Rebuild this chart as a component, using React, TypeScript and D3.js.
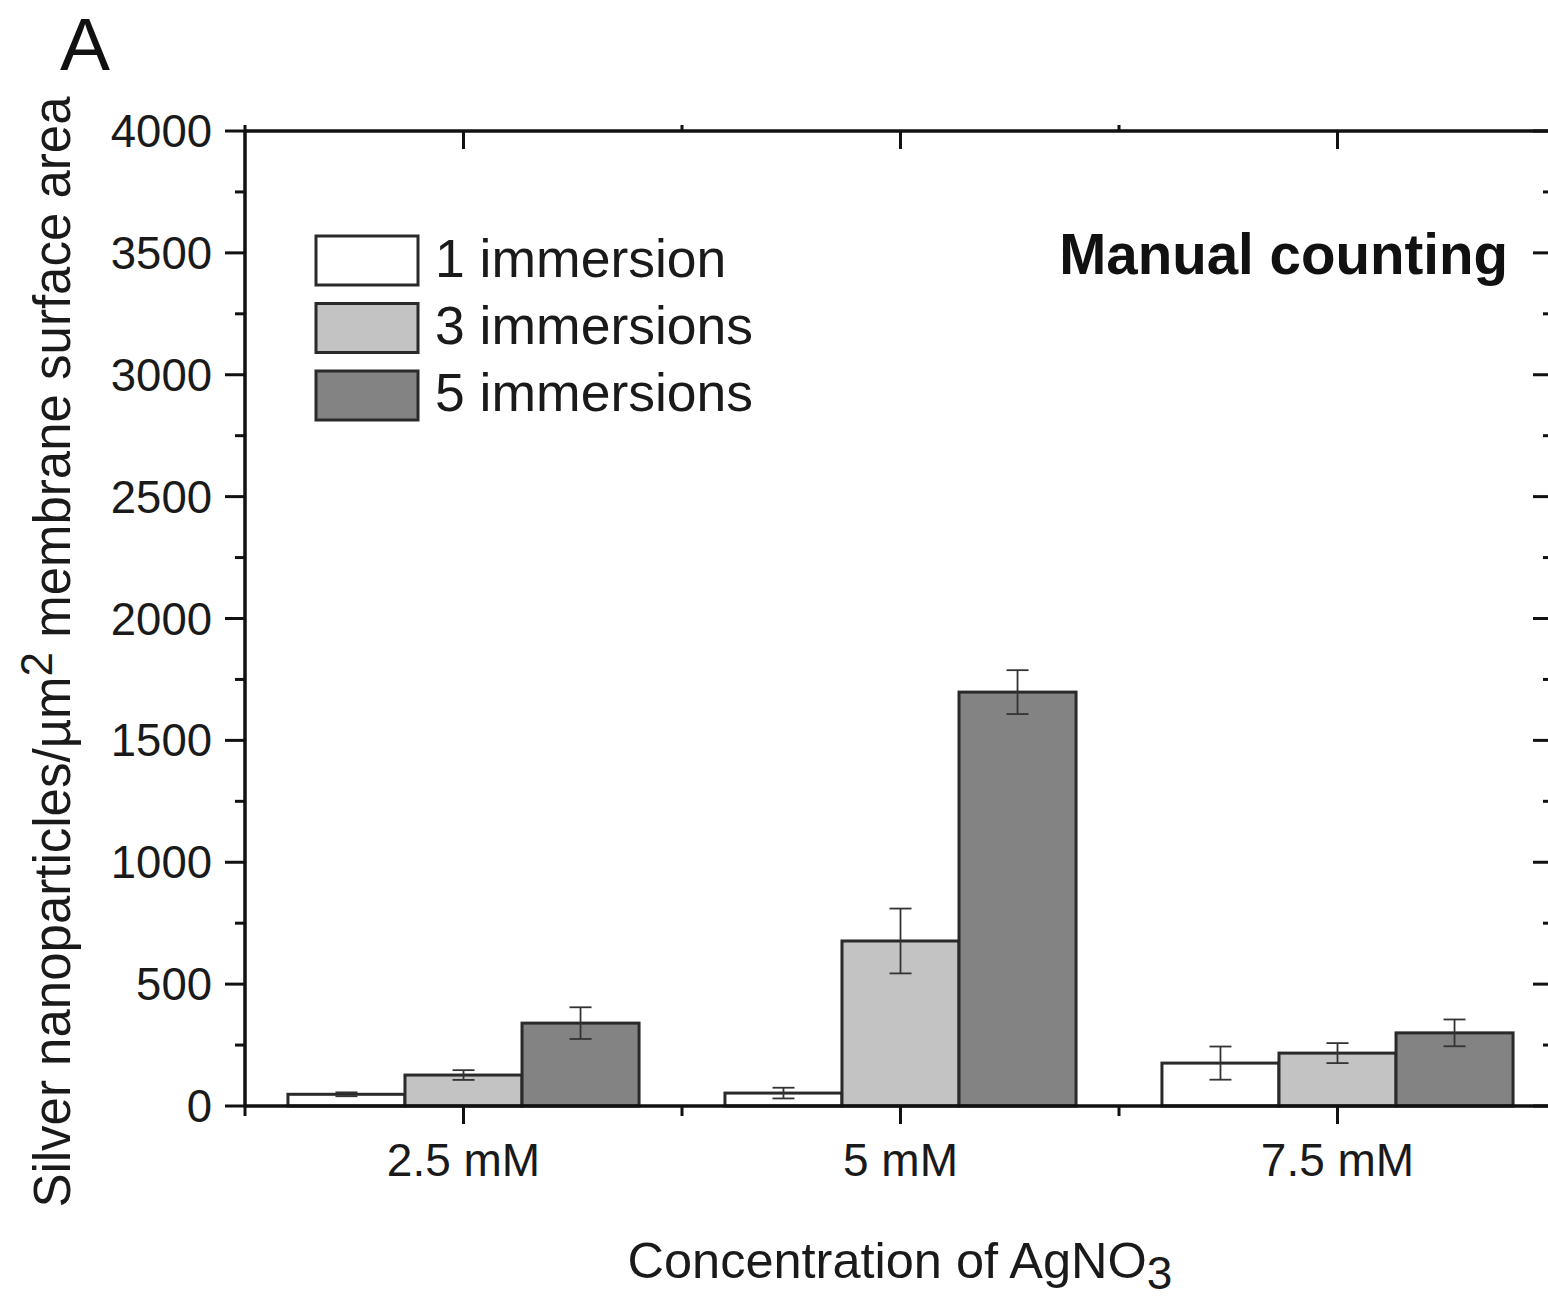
import React from "react";
import * as d3 from "d3";

const categories = ["2.5 mM", "5 mM", "7.5 mM"];
const seriesNames = ["1 immersion", "3 immersions", "5 immersions"];
const values1 = [48, 53, 176];
const errors1 = [8, 22, 68];
const values3 = [127, 677, 217];
const errors3 = [20, 133, 41];
const values5 = [340, 1698, 300];
const errors5 = [65, 90, 55];
const yTicks = [0, 500, 1000, 1500, 2000, 2500, 3000, 3500, 4000];
const seriesFills = ["#ffffff", "#c3c3c3", "#838383"];

const W = 1548;
const H = 1299;
const left = 245;
const right = 1556;
const top = 131;
const bottom = 1106;
const FONT = "'Liberation Sans', Arial, Helvetica, sans-serif";

export default function App() {
  const x = d3.scaleBand<string>().domain(categories).range([left, right]).padding(0);
  const xs = d3
    .scaleBand<string>()
    .domain(seriesNames)
    .range([0, x.bandwidth()])
    .paddingInner(0)
    .paddingOuter(0.367);
  const y = d3.scaleLinear().domain([0, 4000]).range([bottom, top]);

  const allValues = [values1, values3, values5];
  const allErrors = [errors1, errors3, errors5];

  const minorY = d3.range(250, 4000, 500);
  const boundaries = categories.slice(1).map((c) => x(c) as number);
  const axisColor = "#111";

  return (
    <svg
      width={W}
      height={H}
      style={{ position: "absolute", left: 0, top: 0, background: "#fff" }}
      fontFamily={FONT}
    >
      <rect x={0} y={0} width={W} height={H} fill="#fff" />
      {/* Panel label */}
      <text x={85} y={70} fontSize={75} textAnchor="middle" fill="#111">
        A
      </text>

      {/* Bars */}
      {seriesNames.map((s, si) =>
        categories.map((c, ci) => {
          const bx = (x(c) as number) + (xs(s) as number);
          const v = allValues[si][ci];
          return (
            <rect
              key={s + c}
              x={bx}
              y={y(v)}
              width={xs.bandwidth()}
              height={y(0) - y(v)}
              fill={seriesFills[si]}
              stroke="#2a2a2a"
              strokeWidth={3}
            />
          );
        })
      )}

      {/* Error bars */}
      {seriesNames.map((s, si) =>
        categories.map((c, ci) => {
          const cx = (x(c) as number) + (xs(s) as number) + xs.bandwidth() / 2;
          const v = allValues[si][ci];
          const e = allErrors[si][ci];
          const y1 = y(v + e);
          const y2 = y(v - e);
          return (
            <g key={"e" + s + c} stroke="#333" strokeWidth={1.8}>
              <line x1={cx} x2={cx} y1={y1} y2={y2} />
              <line x1={cx - 11} x2={cx + 11} y1={y1} y2={y1} />
              <line x1={cx - 11} x2={cx + 11} y1={y2} y2={y2} />
            </g>
          );
        })
      )}

      {/* Axes frame */}
      <g stroke={axisColor} strokeWidth={3.5} fill="none">
        <line x1={left} x2={left} y1={top} y2={bottom} />
        <line x1={right - 3} x2={right - 3} y1={top} y2={bottom} />
        <line x1={left} x2={W + 10} y1={top} y2={top} />
        <line x1={left} x2={W + 10} y1={bottom} y2={bottom} />
      </g>

      {/* Left ticks (outward) and right ticks (inward) */}
      <g stroke={axisColor} strokeWidth={3}>
        {yTicks.map((t) => (
          <g key={"yt" + t}>
            <line x1={left - 20} x2={left} y1={y(t)} y2={y(t)} />
            <line x1={right - 23} x2={right - 3} y1={y(t)} y2={y(t)} />
          </g>
        ))}
        {minorY.map((t) => (
          <g key={"ym" + t}>
            <line x1={left - 10} x2={left} y1={y(t)} y2={y(t)} />
            <line x1={right - 13} x2={right - 3} y1={y(t)} y2={y(t)} />
          </g>
        ))}
        {categories.map((c) => {
          const cx = (x(c) as number) + x.bandwidth() / 2;
          return (
            <g key={"xt" + c}>
              <line x1={cx} x2={cx} y1={bottom} y2={bottom + 18} />
              <line x1={cx} x2={cx} y1={top} y2={top + 18} />
            </g>
          );
        })}
        {[left, ...boundaries].map((b, i) => (
          <g key={"xb" + i}>
            <line x1={b} x2={b} y1={bottom} y2={bottom + 10} />
            <line x1={b} x2={b} y1={top} y2={top - 6} />
          </g>
        ))}
      </g>

      {/* Y tick labels */}
      {yTicks.map((t) => (
        <text
          key={"yl" + t}
          x={212}
          y={y(t) + 16}
          fontSize={45.5}
          textAnchor="end"
          fill="#1a1a1a"
        >
          {t}
        </text>
      ))}

      {/* X tick labels */}
      {categories.map((c) => (
        <text
          key={"xl" + c}
          x={(x(c) as number) + x.bandwidth() / 2}
          y={1176}
          fontSize={46}
          textAnchor="middle"
          fill="#1a1a1a"
        >
          {c}
        </text>
      ))}

      {/* X axis title */}
      <text x={900} y={1278} fontSize={50.5} textAnchor="middle" fill="#1a1a1a">
        Concentration of AgNO
        <tspan fontSize={46} dy={11}>
          3
        </tspan>
      </text>

      {/* Y axis title */}
      <text
        transform={`translate(70, 652) rotate(-90)`}
        fontSize={51}
        textAnchor="middle"
        fill="#1a1a1a"
      >
        Silver nanoparticles/µm
        <tspan fontSize={44} dy={-18}>
          2
        </tspan>
        <tspan dy={18}> membrane surface area</tspan>
      </text>

      {/* Legend */}
      {seriesNames.map((s, i) => (
        <g key={"lg" + s}>
          <rect
            x={316}
            y={236 + i * 67.5}
            width={102}
            height={49}
            fill={seriesFills[i]}
            stroke="#2a2a2a"
            strokeWidth={3}
          />
          <text x={435} y={277 + i * 67} fontSize={53.5} fill="#1a1a1a">
            {s}
          </text>
        </g>
      ))}

      {/* Annotation */}
      <text
        x={1508}
        y={274}
        fontSize={56.5}
        fontWeight="bold"
        textAnchor="end"
        fill="#111"
      >
        Manual counting
      </text>
    </svg>
  );
}
